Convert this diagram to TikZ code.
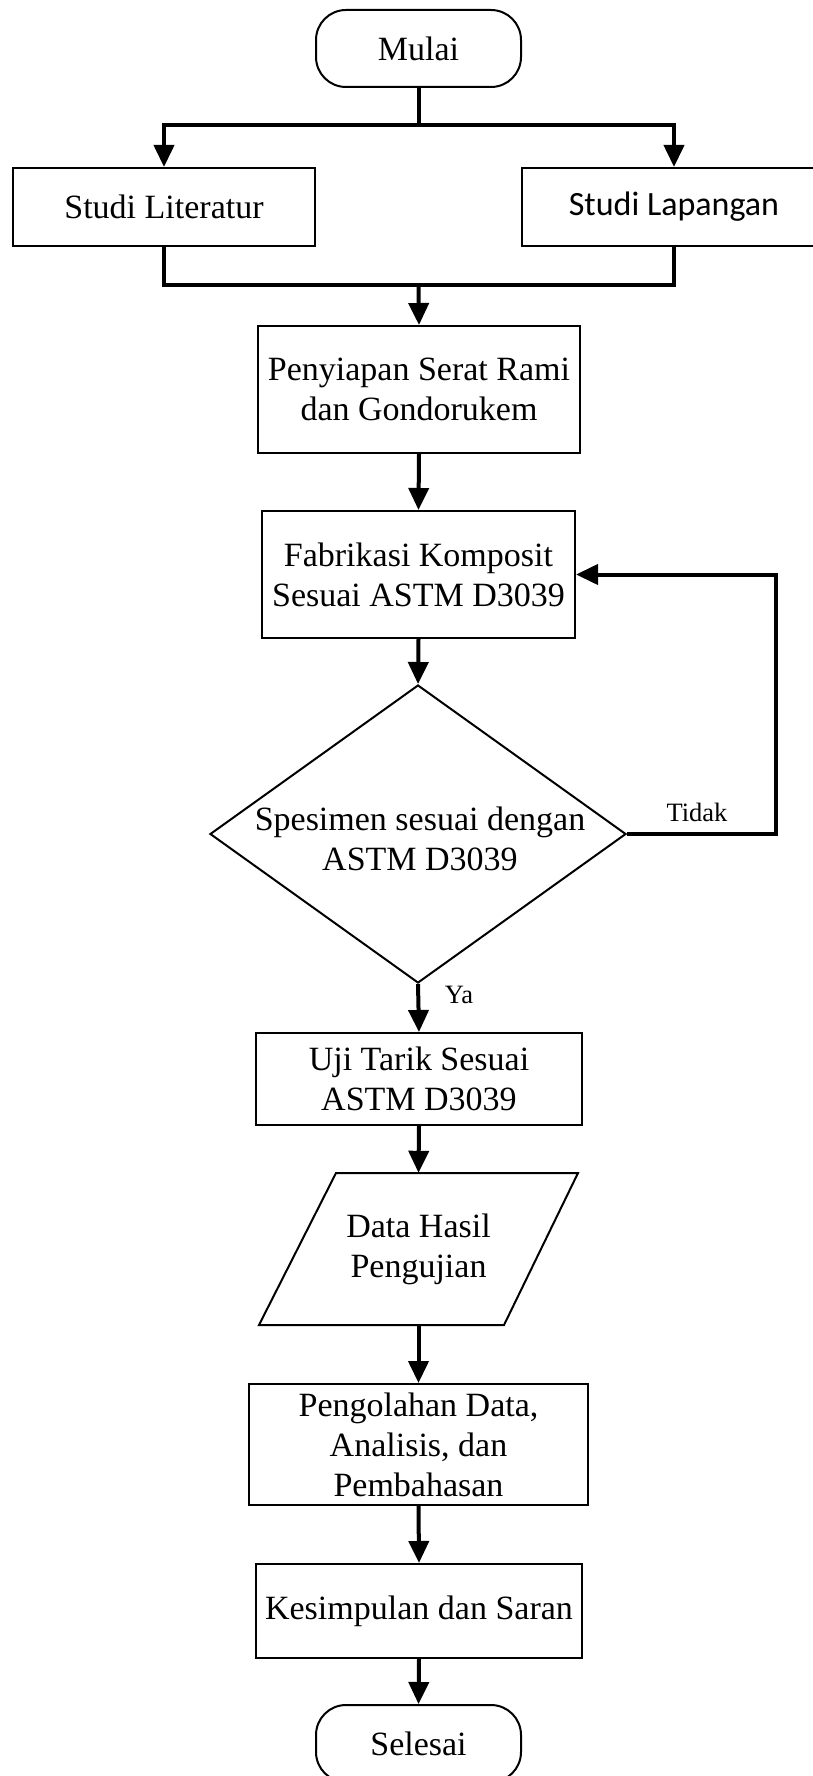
\documentclass[tikz,border=0pt]{standalone}
\usepackage{fontspec}
\setmainfont{Liberation Serif}
\newfontfamily\calibrifont{Carlito}
\usetikzlibrary{arrows.meta,shapes.geometric}
\tikzset{
  boxline/.style={draw=black,line width=2pt,line join=miter},
  procbox/.style={boxline,rectangle,inner sep=0pt,align=center,
    font=\fontsize{34}{40}\selectfont},
  termbox/.style={procbox,rounded corners=30pt,minimum width=205pt,minimum height=77pt},
  decbox/.style={boxline,diamond,inner sep=0pt,minimum width=416pt,minimum height=298pt},
  txt/.style={inner sep=0pt,align=center,font=\fontsize{34}{40}\selectfont},
  lbl/.style={inner sep=0pt,font=\fontsize{26.5}{30}\selectfont},
  link/.style={line width=4pt,line join=miter},
  flow/.style={link,-{Triangle[length=22pt,width=20pt]}}
}
\begin{document}
\begin{tikzpicture}[x=1pt,y=-1pt]
\useasboundingbox (0,0) rectangle (813,1776);

\node[termbox] (mulai) at (418.5,48.5) {Mulai};
\node[procbox,minimum width=302pt,minimum height=78pt] (lit) at (164,207) {Studi Literatur};
\node[procbox,minimum width=304pt,minimum height=78pt,font=\calibrifont\fontsize{34}{40}\selectfont] (lap) at (674,207) {Studi Lapangan};
\node[procbox,minimum width=322pt,minimum height=127pt] (siap) at (419,389.5) {Penyiapan Serat Rami\\dan Gondorukem};
\node[procbox,minimum width=313pt,minimum height=127pt] (fab) at (418.5,574.5) {Fabrikasi Komposit\\Sesuai ASTM D3039};
\node[decbox] (dec) at (418,834) {};
\node[txt] (dectext) at (420,839) {Spesimen sesuai dengan\\ASTM D3039};
\node[lbl] (tidak) at (697,812) {Tidak};
\node[lbl] (ya) at (459,995) {Ya};
\node[procbox,minimum width=326pt,minimum height=92pt] (uji) at (419,1079) {Uji Tarik Sesuai\\ASTM D3039};
\node[txt,minimum height=152pt] (data) at (418.5,1249) {Data Hasil\\Pengujian};
\draw[boxline,shift={(data.center)}] (-82.5,-76) -- (159.5,-76) -- (85.5,76) -- (-159.5,76) -- cycle;
\node[procbox,minimum width=339pt,minimum height=121pt] (peng) at (418.5,1444.5) {Pengolahan Data,\\Analisis, dan\\Pembahasan};
\node[procbox,minimum width=326pt,minimum height=94pt] (kes) at (419,1611) {Kesimpulan dan Saran};
\node[termbox] (sel) at (418.5,1743.5) {Selesai};

\coordinate (split) at (418.5,125);
\coordinate (merge) at (418.5,285);
\coordinate (fbx) at (776,0);

\draw[link] (mulai.south) -- (split);
\draw[flow] (split) -| (lit.north);
\draw[flow] (split) -| (lap.north);
\draw[link] (lit.south) |- (merge);
\draw[link] (lap.south) |- (merge);
\draw[flow] (merge) -- (siap.north);
\draw[flow] (siap.south) -- (fab.north);
\draw[flow] (fab.south) -- (dec.north);
\draw[flow] (dec.east) -- (dec.east -| fbx) |- (fab.east);
\draw[flow] (dec.south) -- (uji.north);
\draw[flow] (uji.south) -- (data.north);
\draw[flow] (data.south) -- (peng.north);
\draw[flow] (peng.south) -- (kes.north);
\draw[flow] (kes.south) -- (sel.north);
\end{tikzpicture}
\end{document}
